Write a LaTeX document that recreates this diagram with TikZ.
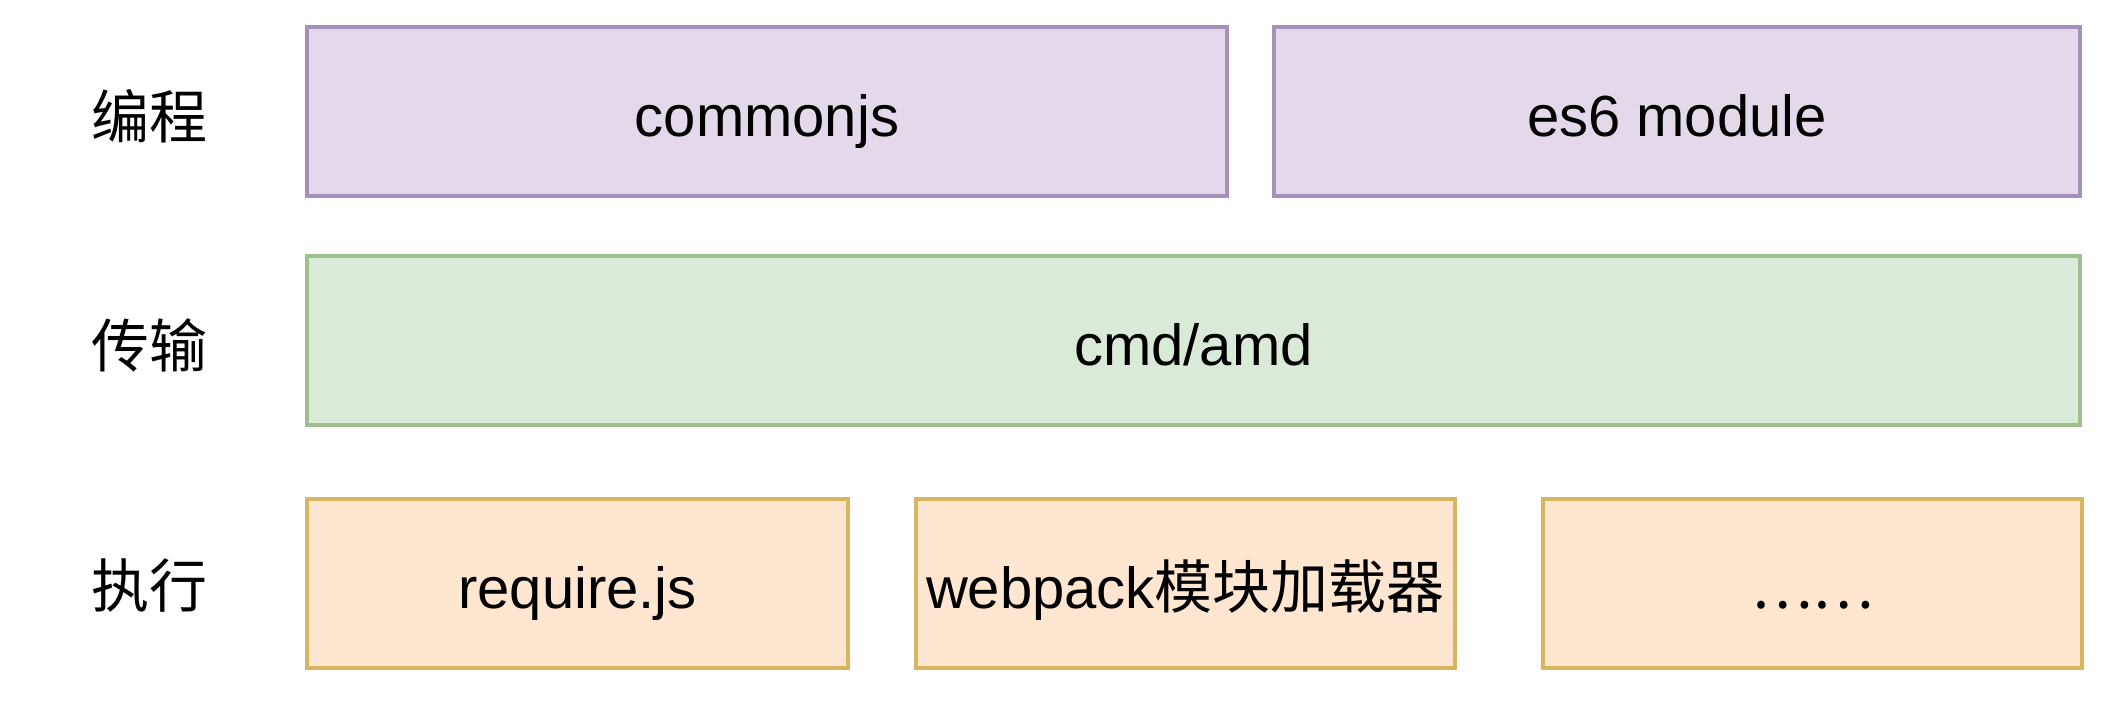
\documentclass[tikz,border=0pt]{standalone}
\usepackage{fontspec}
\setmainfont{Liberation Sans}
\newfontfamily\cjk{Noto Sans CJK SC}
\usetikzlibrary{positioning}
\definecolor{progfill}{HTML}{E4D9EB}
\definecolor{progdraw}{HTML}{A690BC}
\definecolor{transfill}{HTML}{DAEAD8}
\definecolor{transdraw}{HTML}{9DC08F}
\definecolor{execfill}{HTML}{FFE6D0}
\definecolor{execdraw}{HTML}{D8B660}
\tikzset{
	every node/.style={align=center,inner sep=0pt,font=\fontsize{16.5}{20}\selectfont},
	layerbox/.style={draw,line width=0.9pt,minimum height=1.69cm,text height=14pt,text depth=0pt},
	progbox/.style={layerbox,fill=progfill,draw=progdraw},
	transbox/.style={layerbox,fill=transfill,draw=transdraw},
	execbox/.style={layerbox,fill=execfill,draw=execdraw},
	rowlabel/.style={font=\fontsize{16.5}{20}\selectfont\cjk},
}

\begin{document}
\begin{tikzpicture}
	\useasboundingbox [fill=white] (0,0) rectangle (21.2,7.06);

	%row labels.....................
	\node [rowlabel] (lprog) at (1.49,5.90) {编程};
	\node [rowlabel] (ltrans) at (1.49,3.61) {传输};
	\node [rowlabel] (lexec) at (1.49,1.20) {执行};

	%programming row.....................
	\node [progbox,minimum width=9.2cm] (commonjs) at (7.67,5.945) {commonjs};
	\node [progbox,minimum width=8.06cm] (esmodule) at (16.77,5.945) {es6 module};

	%transport row.....................
	\node [transbox,minimum width=17.73cm] (cmdamd) at (11.935,3.655) {cmd/amd};

	%execution row.....................
	\node [execbox,minimum width=5.41cm] (requirejs) at (5.775,1.225) {require.js};
	\node [execbox,minimum width=5.39cm] (webpack) at (11.855,1.225) {webpack{\cjk 模块加载器}};
	\node [execbox,minimum width=5.39cm] (others) at (18.125,1.225) {{\cjk ……}};

\end{tikzpicture}
\end{document}
